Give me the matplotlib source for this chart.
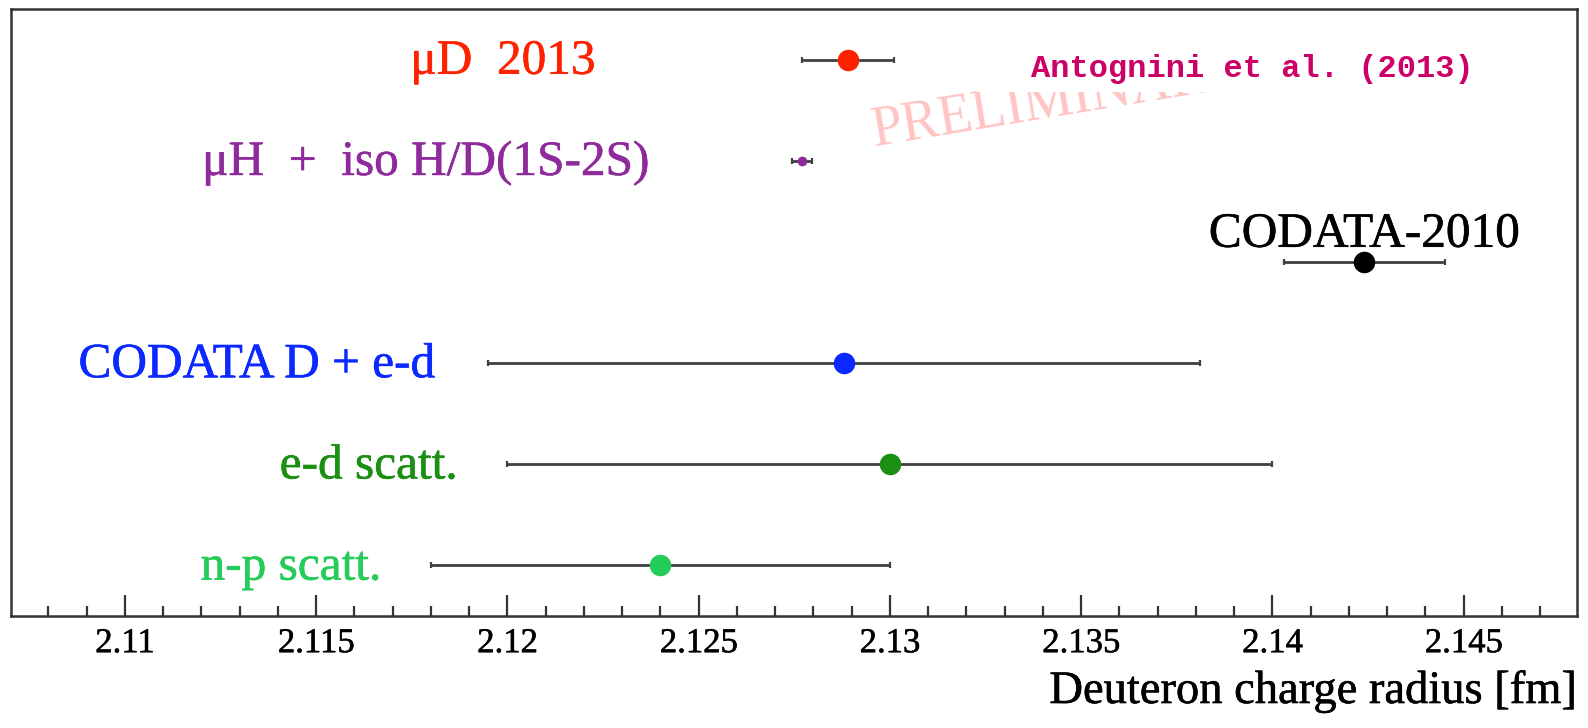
import matplotlib.pyplot as plt
import matplotlib.patheffects as pe
from matplotlib.patches import Rectangle
from matplotlib.ticker import MultipleLocator

# Deuteron charge radius determinations [fm]
labels = ["\u03bcD  2013", "\u03bcH  +  iso H/D(1S-2S)", "CODATA-2010",
          "CODATA D + e-d", "e-d scatt.", "n-p scatt."]
radius = [2.1289, 2.1277, 2.1424, 2.1288, 2.1300, 2.1240]
error = [0.0012, 0.00025, 0.0021, 0.0093, 0.0100, 0.0060]
rows = [6, 5, 4, 3, 2, 1]
tick_values = [2.11, 2.115, 2.12, 2.125, 2.13, 2.135, 2.14, 2.145]
tick_labels = ["2.11", "2.115", "2.12", "2.125", "2.13", "2.135", "2.14", "2.145"]

colors = ["#ff2200", "#8e2a9c", "#000000", "#0a28ff", "#1a8f12", "#26cc5a"]
marker_sizes = [15.5, 7, 15.5, 15.5, 15.5, 15.5]
# where the right edge of each label sits (data x), CODATA-2010 is centred above its point
label_x = [2.1223, 2.1237, None, 2.1181, 2.1187, 2.1167]

serif = "Liberation Serif"

fig = plt.figure(figsize=(15.88, 7.28), dpi=100)
ax = fig.add_axes([0.0069, 0.1538, 0.9861, 0.8338])

for i in range(len(labels)):
    ax.errorbar(radius[i], rows[i], xerr=error[i], fmt="none", ecolor="#404040",
                elinewidth=2.0, capsize=2.5, capthick=1.6, zorder=3)
    ax.plot(radius[i], rows[i], "o", color=colors[i], markersize=marker_sizes[i],
            markeredgewidth=0, zorder=4)
    stroke = [pe.withStroke(linewidth=0.4, foreground=colors[i])]
    if label_x[i] is None:
        ax.text(radius[i], rows[i] + 0.15, labels[i], color=colors[i], fontsize=35.5,
                family=serif, ha="center", va="baseline", zorder=5, path_effects=stroke)
    else:
        ax.text(label_x[i], rows[i] - 0.14, labels[i], color=colors[i], fontsize=35.5,
                family=serif, ha="right", va="baseline", zorder=5, path_effects=stroke)

# watermark, partly hidden behind the reference box
ax.text(2.1296, 5.15, "PRELIMINARY", color="#ffc4c4", fontsize=40, family=serif,
        rotation=9.3, rotation_mode="anchor", ha="left", va="baseline", zorder=1)
ax.add_patch(Rectangle((0.617, 0.863), 0.347, 0.11, transform=ax.transAxes,
                       facecolor="white", edgecolor="none", zorder=2))
ax.text(2.1337, 5.83, "Antognini et al. (2013)", color="#cc0066", fontsize=23,
        family="Liberation Mono", fontweight="bold", ha="left", va="baseline", zorder=5)

ax.set_xlim(2.10702, 2.14796)
ax.set_ylim(0.5, 6.5)
ax.set_xticks(tick_values)
ax.set_xticklabels(tick_labels)
ax.xaxis.set_minor_locator(MultipleLocator(0.001))
ax.tick_params(axis="x", which="major", direction="in", length=15, width=1.6,
               color="#333333", pad=8)
ax.tick_params(axis="x", which="minor", direction="in", length=7.5, width=1.6,
               color="#333333")
for t in ax.get_xticklabels():
    t.set_fontfamily(serif)
    t.set_fontsize(25)
    t.set_path_effects([pe.withStroke(linewidth=0.4, foreground="black")])
ax.set_yticks([])
for s in ax.spines.values():
    s.set_linewidth(1.8)
    s.set_color("#333333")

ax.set_xlabel("Deuteron charge radius [fm]", family=serif, fontsize=33.5)
ax.xaxis.set_label_coords(1.0, -0.1433)
ax.xaxis.label.set_ha("right")
ax.xaxis.label.set_va("baseline")
ax.xaxis.label.set_path_effects([pe.withStroke(linewidth=0.4, foreground="black")])

fig.savefig("out.png", dpi=100)
